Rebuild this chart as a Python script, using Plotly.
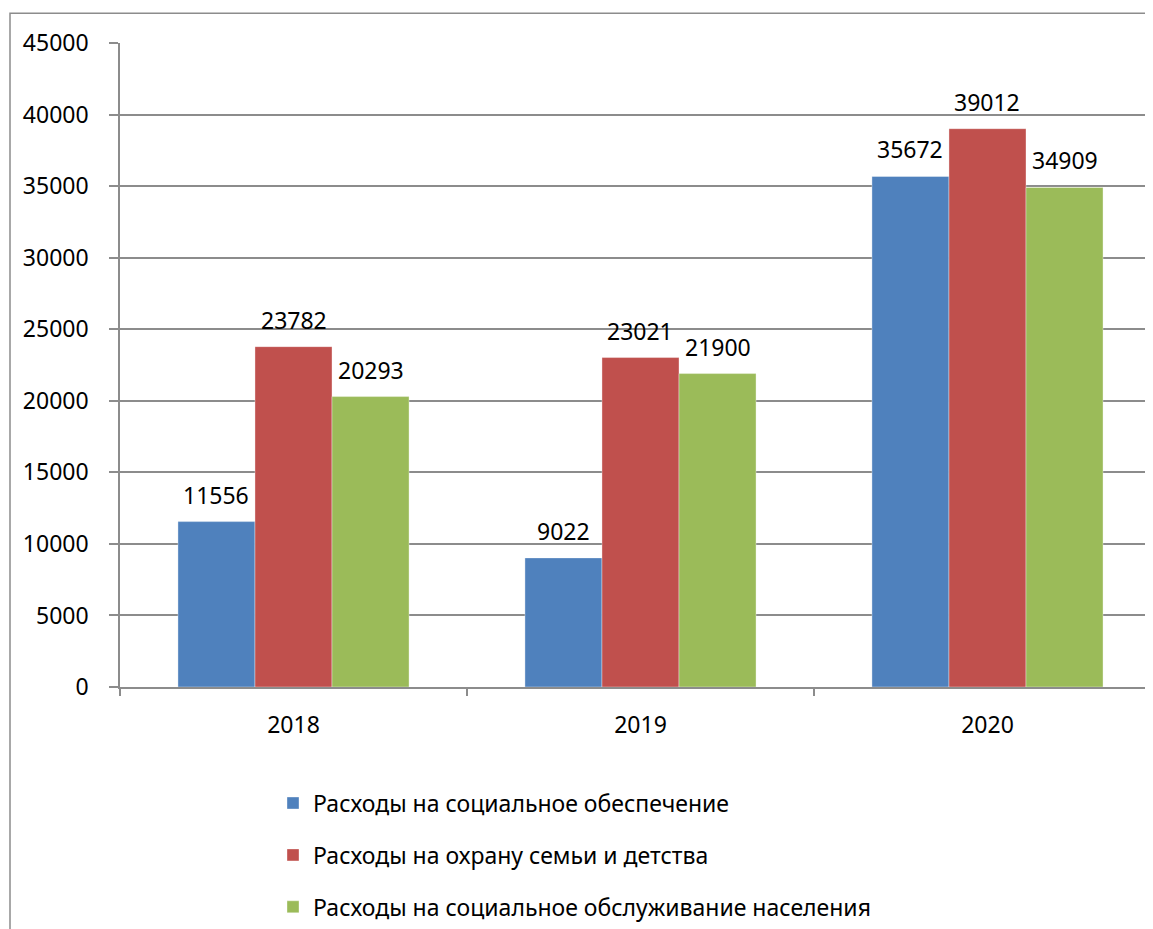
import plotly.graph_objects as go

years = ["2018", "2019", "2020"]
series_names = [
    "Расходы на социальное обеспечение",
    "Расходы на охрану семьи и детства",
    "Расходы на социальное обслуживание населения",
]
social_security = [11556, 9022, 35672]
family_childhood = [23782, 23021, 39012]
social_service = [20293, 21900, 34909]
colors = ["#4F81BD", "#C0504D", "#9BBB59"]
y_ticks = list(range(0, 45001, 5000))

FONT = "Noto Sans"
FS = 23
bargap = 0.334

OFF = 8  # page body offset
W, H = 1153 - OFF, 929 - OFF
ml, mt = 120 - OFF, 43 - OFF
mr = 0
mb = H - (690 - OFF)
pw = W - ml - mr
ph = H - mt - mb

fig = go.Figure()
all_series = [social_security, family_childhood, social_service]
for i, (name, vals, col) in enumerate(zip(series_names, all_series, colors)):
    fig.add_trace(go.Bar(
        x=years, y=vals, name=name,
        marker=dict(color=col, line=dict(width=0.6, color="rgba(255,255,255,0.6)")),
        legendgroup=f"g{i}",
    ))

bw = (1 - bargap) / 3
for i, vals in enumerate(all_series):
    for c, v in enumerate(vals):
        fig.add_annotation(
            x=c + (i - 1) * bw, y=v, xref="x", yref="y",
            text=str(v), showarrow=False, yanchor="middle", yshift=27,
            font=dict(family=FONT, size=FS, color="#000"),
        )

# outer chart border (extends past the visible window)
fig.add_shape(
    type="rect", xref="paper", yref="paper",
    x0=(10 - OFF - ml) / pw, x1=1.05,
    y0=-0.5, y1=1 + (mt - (13 - OFF)) / ph,
    line=dict(color="#8c8c8c", width=1.5), fillcolor="rgba(0,0,0,0)", layer="below",
)

fig.update_layout(
    width=W, height=H,
    margin=dict(l=ml, r=mr, t=mt, b=mb, pad=0),
    paper_bgcolor="white", plot_bgcolor="white",
    barmode="group", bargap=bargap, bargroupgap=0,
    font=dict(family=FONT, size=FS, color="#000"),
    showlegend=True,
    legend=dict(
        orientation="v", x=(273 - OFF - ml) / pw, xanchor="left",
        y=-(785 - 690) / ph, yanchor="top",
        tracegroupgap=19, traceorder="grouped",
        font=dict(family=FONT, size=FS, color="#000"),
        bgcolor="rgba(0,0,0,0)",
    ),
    xaxis=dict(
        type="category", range=[-0.5, 2.477],
        tickson="boundaries", ticks="outside", ticklen=7, tickcolor="#8c8c8c", tickwidth=1.5,
        showline=True, linecolor="#8c8c8c", linewidth=1.5,
        showgrid=False, ticklabelstandoff=17,
        tickfont=dict(family=FONT, size=FS, color="#000"),
    ),
    yaxis=dict(
        range=[0, 45000], tickvals=y_ticks, ticktext=[str(v) for v in y_ticks],
        ticks="outside", ticklen=9, tickcolor="#8c8c8c", tickwidth=1.5,
        showline=True, linecolor="#8c8c8c", linewidth=1.5,
        showgrid=True, gridcolor="#8c8c8c", gridwidth=1.5,
        zeroline=False, ticklabelstandoff=16,
        tickfont=dict(family=FONT, size=FS, color="#000"),
    ),
)

fig.write_html("out.html")
